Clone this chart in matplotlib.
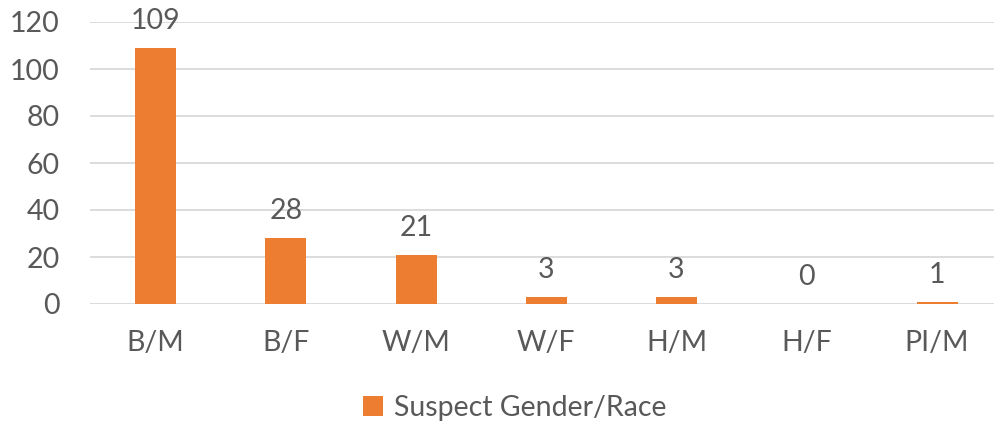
import numpy as np
import matplotlib.pyplot as plt

categories = ['B/M', 'B/F', 'W/M', 'W/F', 'H/M', 'H/F', 'PI/M']
counts = [109, 28, 21, 3, 3, 0, 1]
series_name = 'Suspect Gender/Race'

plt.rcParams['font.family'] = ['Lato', 'DejaVu Sans']
text_color = '#595959'
bar_color = '#ED7D31'
fs = 20.5

fig = plt.figure(figsize=(9.95, 4.26), dpi=100)
ax = fig.add_axes([90 / 995, 1 - 304 / 426, 905 / 995, (304 - 22) / 426])

x = np.arange(len(categories))
bars = ax.bar(x, counts, width=0.315, color=bar_color, label=series_name, zorder=3)

# value labels above each bar
for xi, v in zip(x, counts):
    ax.annotate(str(v), (xi, v), xytext=(0, 10), textcoords='offset points',
                ha='center', va='bottom', fontsize=fs, color=text_color)

ax.set_xlim(-0.503, 6.445)
ax.set_ylim(0, 120)
ax.set_yticks(np.arange(0, 121, 20))
ax.set_xticks(x)
ax.set_xticklabels(categories)
ax.grid(axis='y', color='#d9d9d9', linewidth=1.3, zorder=0)
for s in ax.spines.values():
    s.set_visible(False)
ax.tick_params(axis='both', length=0, labelsize=fs, colors=text_color)
ax.tick_params(axis='y', pad=22)
ax.tick_params(axis='x', pad=19)

fig.legend(handles=[bars], labels=[series_name], loc='center',
           bbox_to_anchor=(515 / 995, 1 - 408 / 426), frameon=False,
           fontsize=fs, labelcolor=text_color, handlelength=0.7,
           handleheight=0.7, handletextpad=0.4)

fig.savefig('out.png', dpi=100)
